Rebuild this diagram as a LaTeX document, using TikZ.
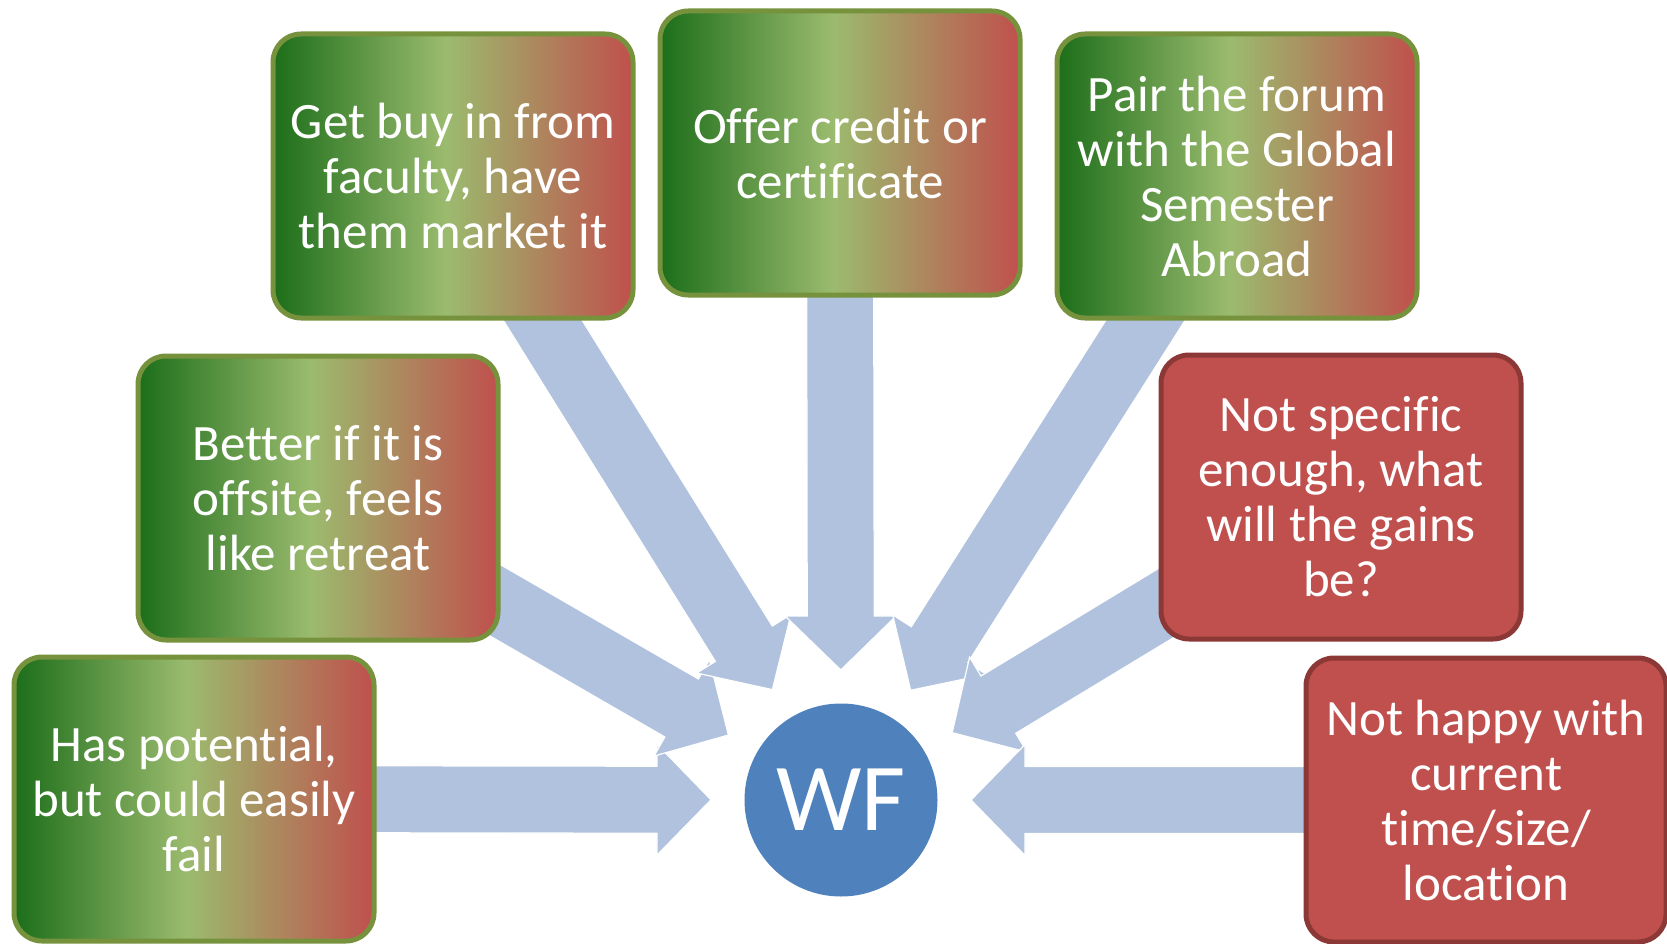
\documentclass[tikz,border=0pt]{standalone}
\usepackage{fontspec}
\setmainfont[Ligatures=NoCommon]{Carlito}
\usetikzlibrary{calc}
\definecolor{gA}{RGB}{28,110,26}
\definecolor{gB}{RGB}{155,187,110}
\definecolor{gC}{RGB}{192,80,77}
\definecolor{gborder}{RGB}{118,146,60}
\definecolor{rfill}{RGB}{192,80,77}
\definecolor{rborder}{RGB}{140,56,54}
\definecolor{arrowblue}{RGB}{176,194,222}
\definecolor{wfblue}{RGB}{79,129,189}
\pgfdeclarehorizontalshading{boxgrad}{100bp}{color(0bp)=(gA); color(25bp)=(gA); color(49bp)=(gB); color(75bp)=(gC); color(100bp)=(gC)}
\pgfdeclarelayer{bg}
\pgfsetlayers{bg,main}
\newcommand\radarrow[2]{%
  \path[fill=arrowblue, draw=white, line width=1.2pt, line join=miter]
    let \p1=($(#1.center)-(#2.center)$), \n1={atan2(\y1,\x1)}, \n2={veclen(\x1,\y1)} in
    ($(#2.center)+(\n1:130pt)$)
    -- ($(#2.center)+(\n1:184pt)+({\n1+90}:55.5pt)$)
    -- ($(#2.center)+(\n1:184pt)+({\n1+90}:33.5pt)$)
    -- ($(#2.center)+(\n1:\n2)+({\n1+90}:33.5pt)$)
    -- ($(#2.center)+(\n1:\n2)+({\n1-90}:33.5pt)$)
    -- ($(#2.center)+(\n1:184pt)+({\n1-90}:33.5pt)$)
    -- ($(#2.center)+(\n1:184pt)+({\n1-90}:55.5pt)$)
    -- cycle;}
\tikzset{
  boxbase/.style={rounded corners=28pt, line width=5pt, minimum width=360pt, minimum height=284pt,
    inner sep=0pt, align=center, text=white, font=\fontsize{51}{55}\selectfont},
  gbox/.style={boxbase, draw=gborder, shading=boxgrad},
  rbox/.style={boxbase, draw=rborder, fill=rfill},
  hub/.style={circle, fill=wfblue, minimum size=193pt, inner sep=0pt, text=white,
    font=\fontsize{96}{100}\selectfont}
}
\begin{document}
\begin{tikzpicture}[x=1pt,y=-1pt]
\useasboundingbox (0,0) rectangle (1667,944);
\node[hub] (wf) at (841,800) {WF};
\node[gbox] (b1) at (194,799) {Has potential,\\but could easily\\fail};
\node[gbox] (b2) at (318,498) {Better if it is\\offsite, feels\\like retreat};
\node[gbox] (b3) at (453,176) {Get buy in from\\faculty, have\\them market it};
\node[gbox] (b4) at (840,153) {Offer credit or\\certificate};
\node[gbox] (b5) at (1237,176) {Pair the forum\\with the Global\\Semester\\Abroad};
\node[rbox] (b6) at (1341,497) {Not specific\\enough, what\\will the gains\\be?};
\node[rbox] (b7) at (1486,800) {Not happy with\\current\\time/size/\\location};
\begin{pgfonlayer}{bg}
\radarrow{b1}{wf}
\radarrow{b2}{wf}
\radarrow{b3}{wf}
\radarrow{b4}{wf}
\radarrow{b5}{wf}
\radarrow{b6}{wf}
\radarrow{b7}{wf}
\end{pgfonlayer}
\end{tikzpicture}
\end{document}
